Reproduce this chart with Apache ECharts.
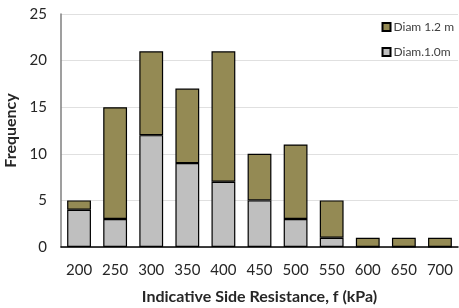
<!DOCTYPE html>
<html>
<head>
<meta charset="utf-8">
<script src="https://cdn.jsdelivr.net/npm/echarts@6/dist/echarts.min.js"></script>
<style>
  html, body { margin: 0; padding: 0; background: #fff; }
  #chart { width: 459px; height: 308px; }
</style>
</head>
<body>
<div id="chart"></div>
<script>
  const categories = ["200", "250", "300", "350", "400", "450", "500", "550", "600", "650", "700"];
  const diam10 = [4, 3, 12, 9, 7, 5, 3, 1, 0, 0, 0];
  const diam12 = [1, 12, 9, 8, 14, 5, 8, 4, 1, 1, 1];
  const yTicks = { min: 0, max: 25, interval: 5 };

  const chart = echarts.init(document.getElementById("chart"));
  const font = "Lato, 'Open Sans', sans-serif";

  chart.setOption({
    animation: false,
    textStyle: { fontFamily: font },
    grid: { left: 61, right: 1, top: 14, bottom: 61, outerBoundsMode: "none", containLabel: false },
    legend: {
      orient: "vertical",
      right: 0,
      top: 16,
      itemGap: 13,
      itemWidth: 8,
      itemHeight: 8,
      icon: "rect",
      textStyle: { fontSize: 12, color: "#404040", fontFamily: font, padding: [0, 0, 0, -2] },
      data: ["Diam 1.2 m", "Diam.1.0m"]
    },
    xAxis: {
      type: "category",
      data: categories,
      name: "Indicative Side Resistance, f (kPa)",
      nameLocation: "middle",
      nameGap: 42,
      nameTextStyle: { fontSize: 16, fontWeight: "bold", color: "#262626", fontFamily: font },
      axisLine: { lineStyle: { color: "#000", width: 1.5 } },
      axisTick: { show: false },
      axisLabel: { fontSize: 15, color: "#262626", margin: 16 }
    },
    yAxis: {
      type: "value",
      min: yTicks.min,
      max: yTicks.max,
      interval: yTicks.interval,
      name: "Frequency",
      nameLocation: "middle",
      nameGap: 36,
      nameTextStyle: { fontSize: 16, fontWeight: "bold", color: "#262626", fontFamily: font },
      axisLine: { show: true, lineStyle: { color: "#7f7f7f", width: 1.5 } },
      axisTick: { show: false },
      axisLabel: { fontSize: 15, color: "#262626", margin: 14 },
      splitLine: { lineStyle: { color: "#e0e0e0", width: 1.2 } }
    },
    series: [
      {
        name: "Diam.1.0m",
        type: "bar",
        stack: "total",
        barWidth: "66%",
        data: diam10,
        itemStyle: { color: "#bfbfbf", borderColor: "#000", borderWidth: 1.2 }
      },
      {
        name: "Diam 1.2 m",
        type: "bar",
        stack: "total",
        data: diam12,
        itemStyle: { color: "#948a54", borderColor: "#000", borderWidth: 1.2 }
      }
    ]
  });
</script>
</body>
</html>
